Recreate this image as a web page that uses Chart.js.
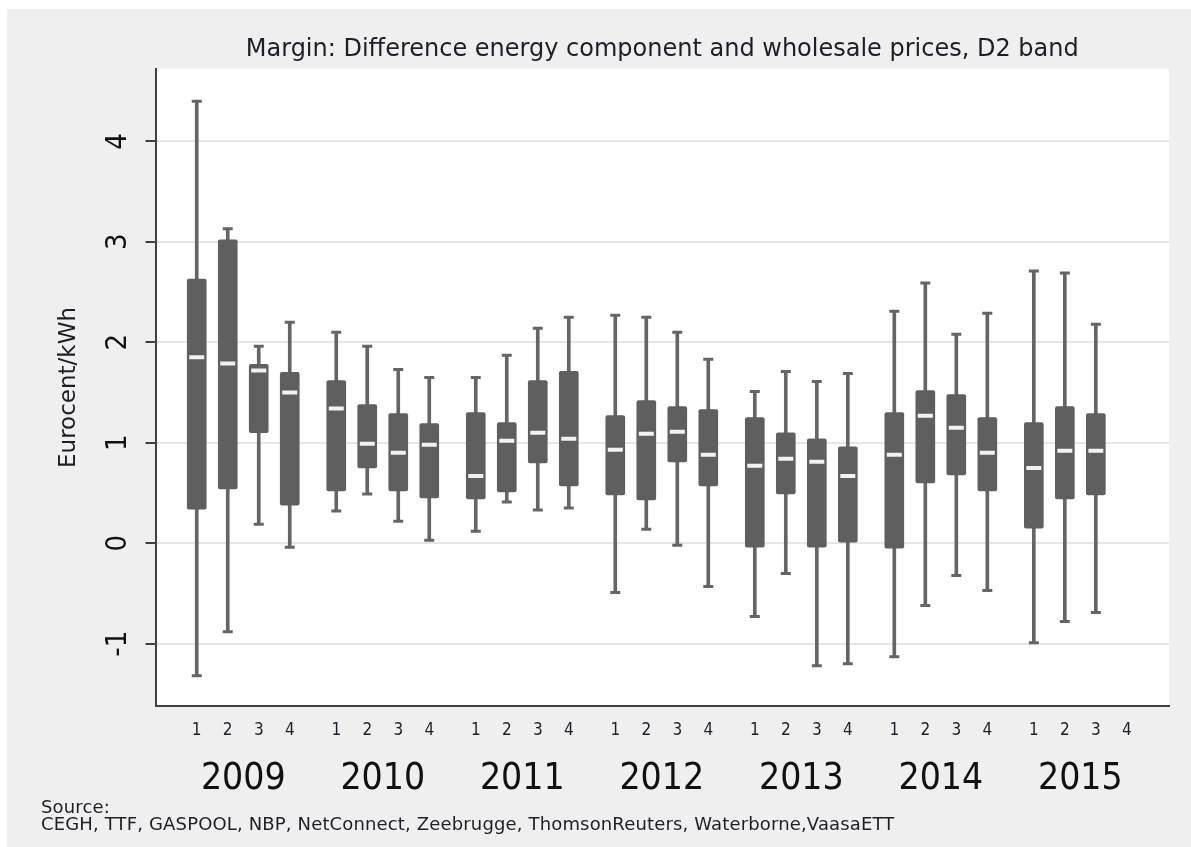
<!DOCTYPE html>
<html>
<head>
<meta charset="utf-8">
<script src="https://cdn.jsdelivr.net/npm/chart.js@4/dist/chart.umd.min.js"></script>
<style>
  html, body { margin: 0; padding: 0; background: #ffffff; }
  #frame {
    position: absolute; left: 7px; top: 9px; right: 0; bottom: 0;
    background: #efefef;
  }
  #marginChart { position: absolute; left: 0; top: 0; }
  #source {
    position: absolute; left: 41px; top: 798px;
    font-family: "DejaVu Sans", sans-serif; font-size: 18px; line-height: 17px;
    letter-spacing: 0.15px;
    color: #1e1e28;
  }
</style>
</head>
<body>
<div id="frame"></div>
<canvas id="marginChart" width="1191" height="847"></canvas>
<div id="source">Source:<br>CEGH, TTF, GASPOOL, NBP, NetConnect, Zeebrugge, ThomsonReuters, Waterborne,VaasaETT</div>

<script>
// tick labels
const years = ["2009", "2010", "2011", "2012", "2013", "2014", "2015"];
const quarters = ["1", "2", "3", "4"];

// box plot values per quarter (Eurocent/kWh), 2009 Q1 ... 2015 Q4
const whiskerLow = [
  -1.32, -0.88, 0.19, -0.04,
  0.32, 0.49, 0.22, 0.03,
  0.12, 0.41, 0.33, 0.35,
  -0.49, 0.14, -0.02, -0.43,
  -0.73, -0.30, -1.22, -1.20,
  -1.13, -0.62, -0.32, -0.47,
  -0.99, -0.78, -0.69, null
];
const boxLow = [
  0.34, 0.54, 1.10, 0.38,
  0.52, 0.75, 0.52, 0.45,
  0.44, 0.51, 0.80, 0.57,
  0.48, 0.43, 0.81, 0.57,
  -0.04, 0.49, -0.04, 0.00,
  -0.05, 0.60, 0.68, 0.52,
  0.15, 0.44, 0.48, null
];
const medians = [
  1.85, 1.79, 1.72, 1.50,
  1.34, 0.99, 0.90, 0.98,
  0.67, 1.02, 1.10, 1.04,
  0.93, 1.09, 1.11, 0.88,
  0.77, 0.84, 0.81, 0.67,
  0.88, 1.27, 1.15, 0.90,
  0.75, 0.92, 0.92, null
];
const boxHigh = [
  2.63, 3.02, 1.78, 1.70,
  1.62, 1.38, 1.29, 1.19,
  1.30, 1.20, 1.62, 1.71,
  1.27, 1.42, 1.36, 1.33,
  1.25, 1.10, 1.04, 0.96,
  1.30, 1.52, 1.48, 1.25,
  1.20, 1.36, 1.29, null
];
const whiskerHigh = [
  4.40, 3.13, 1.96, 2.20,
  2.10, 1.96, 1.73, 1.65,
  1.65, 1.87, 2.14, 2.25,
  2.27, 2.25, 2.10, 1.83,
  1.51, 1.71, 1.61, 1.69,
  2.31, 2.59, 2.08, 2.29,
  2.71, 2.69, 2.18, null
];

const yearStride = 4.5;
const boxColor = "#5f5f5f";
const axisColor = "#404040";
const textColor = "#1e1e28";

// x slot of each quarter: quarters inside a year, a wider gap between years
function slotOf(i) {
  return Math.floor(i / 4) * yearStride + (i % 4);
}

const slots = whiskerLow.map((_, i) => slotOf(i));
const yearCentres = years.map((_, i) => i * yearStride + 1.5);

function rangeData(lo, hi) {
  return slots.map((x, i) => ({ x, y: lo[i] == null ? null : [lo[i], hi[i]] }));
}

function pointData(values) {
  return slots.map((x, i) => ({ x, y: values[i] }));
}

const plotBackground = {
  id: "plotBackground",
  beforeDraw(chart) {
    const { ctx, chartArea } = chart;
    ctx.save();
    ctx.fillStyle = "#ffffff";
    ctx.fillRect(chartArea.left, chartArea.top, chartArea.right - chartArea.left, chartArea.bottom - chartArea.top);
    ctx.restore();
  }
};

new Chart(document.getElementById("marginChart"), {
  type: "bar",
  data: {
    datasets: [
      {
        label: "Whisker",
        data: rangeData(whiskerLow, whiskerHigh),
        backgroundColor: "#656565",
        barThickness: 3,
        grouped: false,
        order: 4
      },
      {
        label: "Box",
        data: rangeData(boxLow, boxHigh),
        backgroundColor: boxColor,
        barThickness: 19,
        borderRadius: 2,
        borderSkipped: false,
        grouped: false,
        order: 2
      },
      {
        type: "line",
        label: "Lower cap",
        data: pointData(whiskerLow),
        showLine: false,
        pointStyle: "line",
        pointRadius: 5,
        borderWidth: 3,
        borderColor: "#656565",
        order: 3
      },
      {
        type: "line",
        label: "Upper cap",
        data: pointData(whiskerHigh),
        showLine: false,
        pointStyle: "line",
        pointRadius: 5,
        borderWidth: 3,
        borderColor: "#656565",
        order: 3
      },
      {
        type: "line",
        label: "Median",
        data: pointData(medians),
        showLine: false,
        pointStyle: "line",
        pointRadius: 7.5,
        borderWidth: 4,
        borderColor: "#f2f2f2",
        order: 1
      }
    ]
  },
  options: {
    responsive: false,
    animation: false,
    layout: {
      padding: { left: 0, right: 22, top: 0, bottom: 45 }
    },
    plugins: {
      legend: { display: false },
      tooltip: { enabled: false },
      title: {
        display: true,
        fullSize: false,
        text: "Margin: Difference energy component and wholesale prices, D2 band",
        color: textColor,
        font: { family: "DejaVu Sans", size: 24, weight: "normal" },
        padding: { top: 35, bottom: 5.2 }
      }
    },
    scales: {
      x: {
        type: "linear",
        position: "bottom",
        weight: 0,
        offset: false,
        min: -1.33,
        max: 31.36,
        afterBuildTicks(scale) {
          scale.ticks = slots.map(value => ({ value }));
        },
        afterFit(scale) {
          scale.height = 46;
        },
        ticks: {
          autoSkip: false,
          maxRotation: 0,
          padding: 14,
          color: textColor,
          font: { family: "DejaVu Sans Condensed", size: 17 },
          callback: (value, index) => quarters[index % 4]
        },
        grid: { display: false, drawTicks: false },
        border: { display: true, color: axisColor, width: 2 }
      },
      x2: {
        type: "linear",
        position: "bottom",
        weight: 1,
        offset: false,
        min: -1.33,
        max: 31.36,
        afterBuildTicks(scale) {
          scale.ticks = yearCentres.map(value => ({ value }));
        },
        afterFit(scale) {
          scale.height = 50;
        },
        ticks: {
          autoSkip: false,
          maxRotation: 0,
          padding: 5,
          color: "#111111",
          font: { family: "DejaVu Sans Condensed", size: 37 },
          callback: (value, index) => years[index]
        },
        grid: { display: false, drawTicks: false },
        border: { display: false }
      },
      y: {
        type: "linear",
        position: "left",
        min: -1.62,
        max: 4.72,
        afterFit(scale) {
          scale.width = 155.5;
        },
        ticks: {
          stepSize: 1,
          includeBounds: false,
          minRotation: 90,
          maxRotation: 90,
          crossAlign: "center",
          padding: 14,
          color: "#111111",
          font: { family: "DejaVu Sans Condensed", size: 29 }
        },
        grid: {
          color: "#e6e6e6",
          lineWidth: 2,
          tickLength: 10,
          tickColor: axisColor,
          tickWidth: 2
        },
        border: { color: axisColor, width: 2 },
        title: {
          display: true,
          text: "Eurocent/kWh",
          color: textColor,
          font: { family: "DejaVu Sans", size: 23 },
          padding: { top: 55, bottom: 0 }
        }
      }
    }
  },
  plugins: [plotBackground]
});
</script>
</body>
</html>
